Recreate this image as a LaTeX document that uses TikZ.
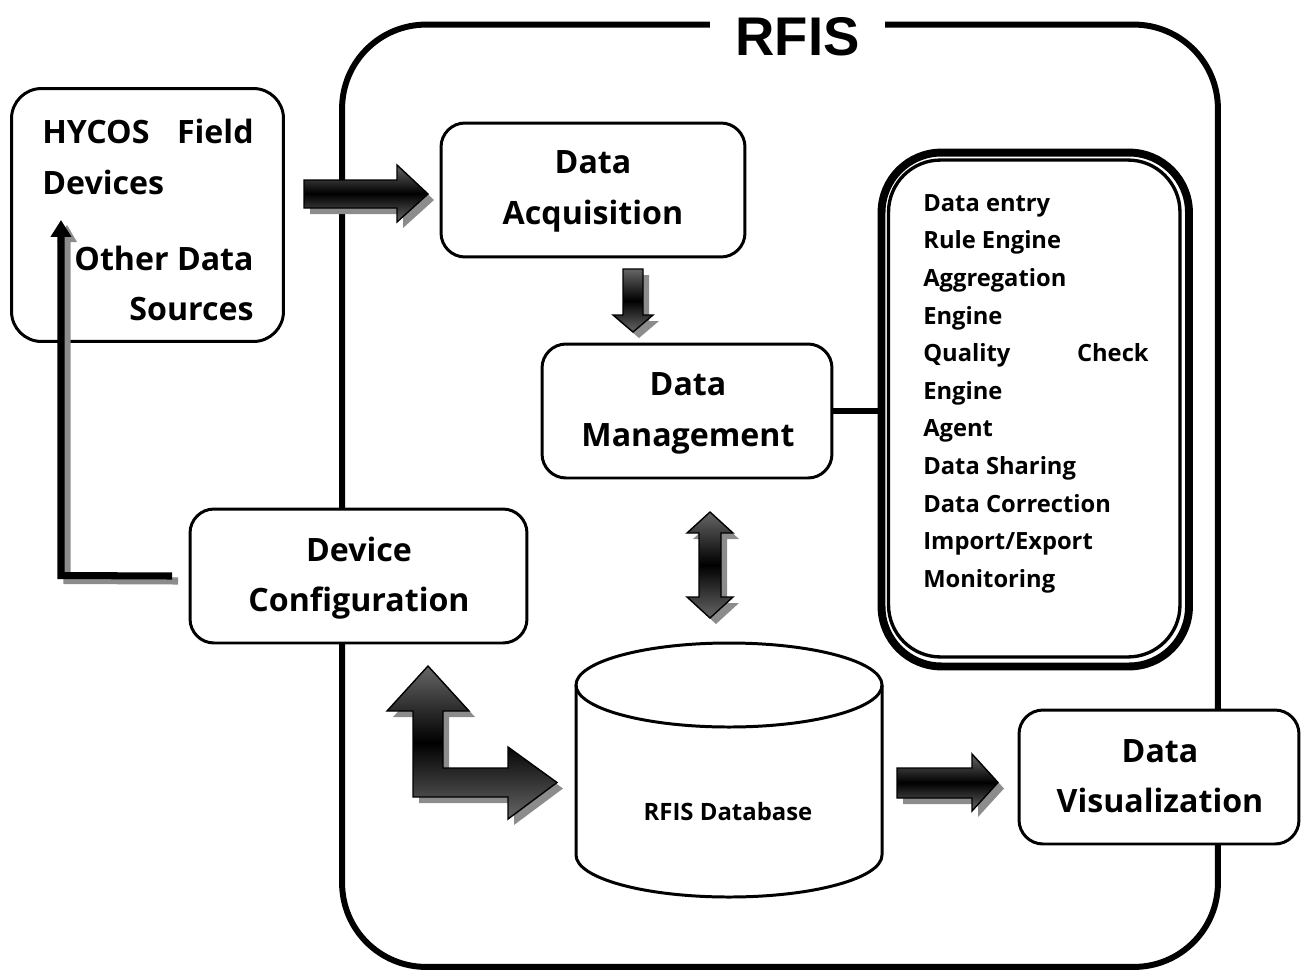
\documentclass[tikz,border=0pt]{standalone}
\usepackage{fontspec}
\setmainfont{Open Sans}
\newfontfamily\titlefont{Liberation Sans}
\usetikzlibrary{calc,arrows.meta}

\definecolor{arrowgray}{HTML}{666666}
\definecolor{shadowgray}{HTML}{8C8C8C}

% block arrow: grey drop shadow, then the shaded body
\newcommand\blockarrow[1]{%
  \fill[shadowgray, shift={(6,6)}] #1;
  \draw[blockbody] #1;
}

\tikzset{
  box/.style={draw, line width=1.7pt, rounded corners=0.48cm, inner sep=0pt, outer sep=0pt, fill=white},
  lbl/.style={font=\fontsize{18.3}{22}\selectfont\bfseries, inner sep=0pt, anchor=base},
  item/.style={font=\fontsize{13.5}{16}\selectfont\bfseries, inner sep=0pt, anchor=base west},
  blockbody/.style={draw=black, line width=0.8pt, line join=miter,
    top color=arrowgray, bottom color=arrowgray, middle color=black},
}

\begin{document}
\begin{tikzpicture}[x=0.02cm, y=-0.02cm]
\useasboundingbox (0,0) rectangle (1301,974);

% system boundary with its title
\node (rfis) [box, line width=3.4pt, rounded corners=1.68cm, fill=none,
  minimum width=17.52cm, minimum height=18.85cm] at (780,495.75) {};
\node (title) [fill=white, inner sep=0pt, minimum width=3.5cm, anchor=base,
  font=\titlefont\fontsize{31}{31}\selectfont\bfseries] at (797.5,55) {RFIS};

% external sources
\node (hycos) [box, rounded corners=0.6cm, minimum width=5.44cm, minimum height=5.06cm] at (147.5,215) {};
\node (h1) [lbl, anchor=base west] at (42,143) {HYCOS};
\node (h2) [lbl, anchor=base east] at (254,143) {Field};
\node (h3) [lbl, anchor=base west] at (42,194) {Devices};
\node (h4) [lbl, anchor=base east] at (254,270) {Other Data};
\node (h5) [lbl, anchor=base east] at (254,320) {Sources};

% processing blocks
\node (acq) [box, minimum width=6.08cm, minimum height=2.68cm] at (593,190) {};
\node (acq1) [lbl] at (593,173) {Data};
\node (acq2) [lbl] at (593,224) {Acquisition};

\node (mgmt) [box, minimum width=5.8cm, minimum height=2.68cm] at (687,411) {};
\node (mgmt1) [lbl] at (688,395) {Data};
\node (mgmt2) [lbl] at (688,446) {Management};

\node (devc) [box, minimum width=6.74cm, minimum height=2.68cm] at (358.5,576) {};
\node (devc1) [lbl] at (359,561) {Device};
\node (devc2) [lbl] at (359,611) {Configuration};

\node (vis) [box, minimum width=5.6cm, minimum height=2.68cm] at (1159,777) {};
\node (vis1) [lbl] at (1160,762) {Data};
\node (vis2) [lbl] at (1160,812) {Visualization};

% feedback line from device configuration to the field devices
\coordinate (fbtop) at (61,220);
\coordinate (fbcorner) at (61,575.5);
\coordinate (fbstart) at ($(devc.west)+(-18,0)$);
\draw[shadowgray, line width=4pt]
  ($(fbstart)+(6,5)$) -- ($(fbcorner)+(6,5)$) -- ($(fbtop)+(6,22)$);
\fill[shadowgray] ($(fbtop)+(6,5)$) -- ++(10,17) -- ++(-20,0) -- cycle;
\draw[black, line width=4pt, -{Triangle[length=9.6pt, width=11.3pt]}]
  (fbstart) -- (fbcorner) -- (fbtop);

% management functions
\node (list) [draw, line width=4.5pt, rounded corners=1.2cm, inner sep=0pt,
  minimum width=6.15cm, minimum height=10.28cm] at (1035.25,409.5) {};
\node (listin) [draw, line width=1.9pt, rounded corners=1.04cm, inner sep=0pt,
  minimum width=5.83cm, minimum height=9.94cm] at (1034.25,408.5) {};
\draw[line width=3.6pt] (mgmt.east) -- (mgmt.east -| list.west);

\node (f1) [item] at (923,211) {Data entry};
\node (f2) [item] at (923,248) {Rule Engine};
\node (f3) [item] at (923,286) {Aggregation};
\node (f4) [item] at (923,324) {Engine};
\node (f5) [item] at (923,361) {Quality};
\node (f5b) [item, anchor=base east] at (1149,361) {Check};
\node (f6) [item] at (923,399) {Engine};
\node (f7) [item] at (923,436) {Agent};
\node (f8) [item] at (923,474) {Data Sharing};
\node (f9) [item] at (923,512) {Data Correction};
\node (f10) [item] at (923,549) {Import/Export};
\node (f11) [item] at (923,587) {Monitoring};

% database cylinder
\coordinate (dbtop) at (729,685);
\draw[line width=1.7pt, fill=white] (576,685) -- (576,855)
  arc[start angle=180, end angle=0, x radius=153, y radius=42] -- (882,685);
\draw[line width=1.7pt] (dbtop) ellipse[x radius=153, y radius=42];
\node (db) [inner sep=0pt, anchor=base, font=\fontsize{13.6}{16}\selectfont\bfseries] at (728,820) {RFIS Database};

% flow arrows
\blockarrow{(304,180) -- (397,180) -- (397,165) -- (428,194) -- (397,222) -- (397,208) -- (304,208) -- cycle}
\blockarrow{(623,269) -- (643,269) -- (643,315) -- (653,315) -- (633,332) -- (613,315) -- (623,315) -- cycle}
\blockarrow{(710,512) -- (733,533) -- (721,533) -- (721,597) -- (733,597) -- (710,618) -- (687,597) -- (699,597) -- (699,533) -- (687,533) -- cycle}
\blockarrow{(428,666) -- (469,711) -- (443,711) -- (443,768) -- (508,768) -- (508,747) -- (557,782.5) -- (508,819) -- (508,797) -- (413,797) -- (413,711) -- (387,711) -- cycle}
\blockarrow{(897,768) -- (972,768) -- (972,754) -- (998,782.5) -- (972,811) -- (972,798) -- (897,798) -- cycle}

\end{tikzpicture}
\end{document}
